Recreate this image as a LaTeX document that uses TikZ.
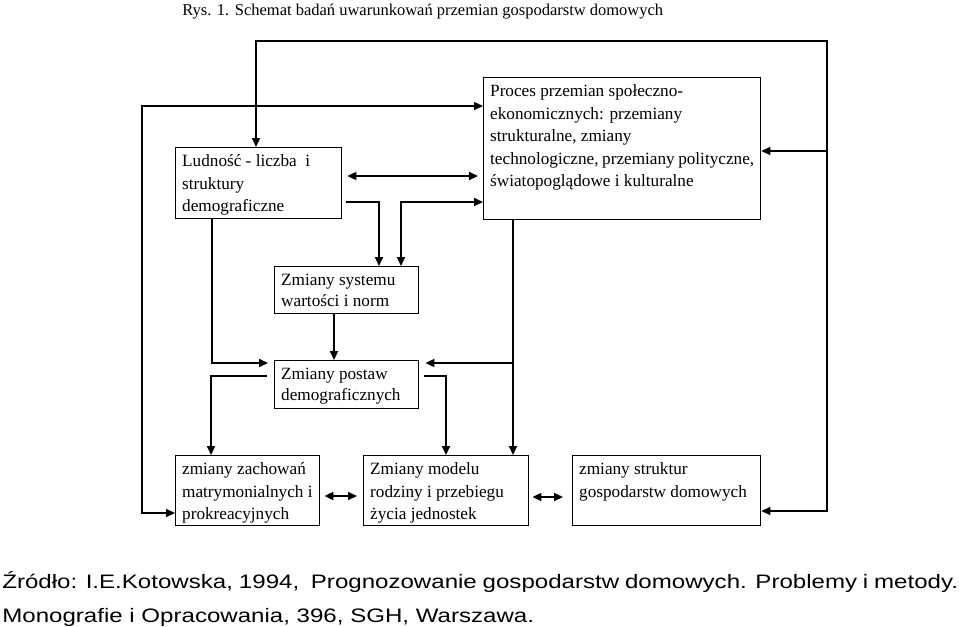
\documentclass[tikz,border=0pt]{standalone}
\usepackage{fontspec}
\usepackage{tikz}
\usetikzlibrary{arrows.meta}
\newfontfamily\blokfont{Liberation Serif}
\newfontfamily\zrodlofont[FakeStretch=1.235]{Liberation Sans}

\begin{document}
\begin{tikzpicture}[x=0.02cm, y=-0.02cm,
  >={Triangle[length=0.18cm, width=0.16cm]},
  blok/.style={draw, line width=0.8pt, anchor=north west, inner xsep=0.13cm, inner ysep=0.14cm, font=\blokfont\fontsize{0.344cm}{0.45cm}\selectfont},
  polaczenie/.style={line width=1pt},
  cienka/.style={line width=0.75pt}]%
\useasboundingbox (0,0) rectangle (960,626);%
\node[anchor=base west, inner sep=0, font=\blokfont\fontsize{0.33cm}{0.4cm}\selectfont] (tytul) at (182,15) {Rys. 1. Schemat badań uwarunkowań przemian gospodarstw domowych};%
% bloki
\node[blok] (ludnosc) at (175,147) {\parbox[t][1.14cm][t]{3.06cm}{Ludność - liczba\ \ i\\struktury\\demograficzne}};%
\node[blok] (proces) at (483,77) {\parbox[t][2.56cm][t]{5.28cm}{Proces przemian społeczno-\\ekonomicznych: przemiany\\strukturalne, zmiany\\technologiczne, przemiany polityczne,\\światopoglądowe i kulturalne}};%
\node[blok, font=\blokfont\fontsize{0.344cm}{0.43cm}\selectfont] (system) at (274,266) {\parbox[t][0.66cm][t]{2.62cm}{Zmiany systemu\\wartości i norm}};%
\node[blok, font=\blokfont\fontsize{0.344cm}{0.43cm}\selectfont] (postaw) at (274,360) {\parbox[t][0.68cm][t]{2.62cm}{Zmiany postaw\\demograficznych}};%
\node[blok] (zachowan) at (175,455) {\parbox[t][1.12cm][t]{2.62cm}{zmiany zachowań\\matrymonialnych i\\prokreacyjnych}};%
\node[blok] (model) at (363,455) {\parbox[t][1.12cm][t]{3.04cm}{Zmiany modelu\\rodziny i przebiegu\\życia jednostek}};%
\node[blok] (struktur) at (572,455) {\parbox[t][1.12cm][t]{3.50cm}{zmiany struktur\\gospodarstw domowych}};%
% punkty zalaman
\coordinate (petlaL) at (256,41);%
\coordinate (petlaP) at (827,41);%
\coordinate (petlaS) at (827,151);%
\coordinate (petlaD) at (827,511);%
\coordinate (lewyG) at (142,106);%
\coordinate (lewyD) at (142,513);%
\coordinate (lp) at (410,176);%
\coordinate (a1) at (379,202);%
\coordinate (a2) at (401,202);%
\coordinate (a3) at (212,363);%
\coordinate (a4) at (513,363);%
\coordinate (a5) at (211,376);%
\coordinate (a6) at (446,376);%
\coordinate (zm) at (340,496);%
\coordinate (ms) at (547,497);%
% polaczenia
\draw[cienka, <->] (ludnosc.north -| petlaL) -- (petlaL) -- (petlaP) -- (petlaD) -- (struktur.east |- petlaD);%
\draw[cienka, ->] (petlaS) -- (proces.east |- petlaS);%
\draw[cienka, <->] (proces.west |- lewyG) -- (lewyG) -- (lewyD) -- (zachowan.west |- lewyD);%
\draw[polaczenie, <->, shorten <=0.1cm, shorten >=0.1cm] (ludnosc.east |- lp) -- (proces.west |- lp);%
\draw[polaczenie, ->] ([xshift=0.08cm]ludnosc.east |- a1) -- (a1) -- (system.north -| a1);%
\draw[polaczenie, <->] (system.north -| a2) -- (a2) -- (proces.west |- a2);%
\draw[polaczenie, ->] (system.south -| 334,0) -- (postaw.north -| 334,0);%
\draw[polaczenie, ->, shorten >=0.12cm] (ludnosc.south -| a3) -- (a3) -- (postaw.west |- a3);%
\draw[polaczenie, ->] (proces.south -| a4) -- (model.north -| a4);%
\draw[polaczenie, ->, shorten >=0.12cm] (a4) -- (postaw.east |- a4);%
\draw[polaczenie, ->, shorten <=0.14cm] (postaw.west |- a5) -- (a5) -- (zachowan.north -| a5);%
\draw[polaczenie, ->, shorten <=0.1cm] (postaw.east |- a6) -- (a6) -- (model.north -| a6);%
\draw[polaczenie, <->, shorten <=0.08cm, shorten >=0.12cm] (zachowan.east |- zm) -- (model.west |- zm);%
\draw[polaczenie, <->, shorten <=0.06cm, shorten >=0.18cm] (model.east |- ms) -- (struktur.west |- ms);%
% zrodlo
\node[anchor=base west, inner sep=0, align=left, font=\zrodlofont\fontsize{0.39cm}{0.68cm}\selectfont] (zrodlo) at (2,622) {\makebox[19.12cm][s]{Źródło: I.E.Kotowska, 1994,\ \ Prognozowanie gospodarstw domowych. Problemy i metody.}\\Monografie i Opracowania, 396, SGH, Warszawa.};%
\end{tikzpicture}
\end{document}
